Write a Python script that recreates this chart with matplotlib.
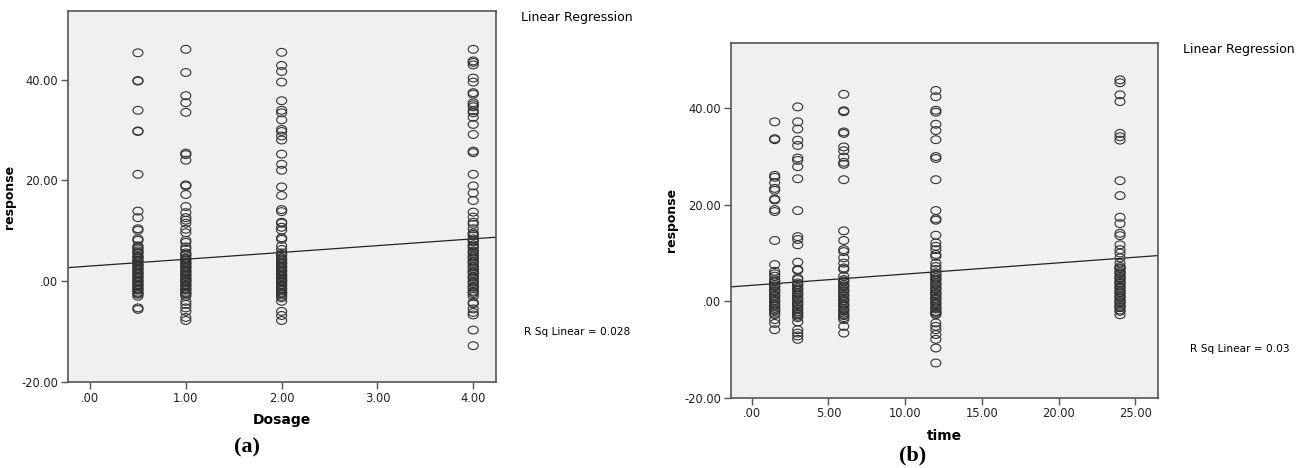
import numpy as np
import matplotlib
matplotlib.use("Agg")
import matplotlib.pyplot as plt
from matplotlib.ticker import FuncFormatter
from matplotlib.path import Path

dose_levels = [0.5, 1.0, 2.0, 4.0]
resp_d05 = [45.3, 39.8, 39.7, 33.9, 29.8, 29.7, 21.2, 13.9, 12.6, 10.4, 10.1, 8.4, 8.1,
            7.0, 6.7, 6.4, 6.0, 5.7, 5.5, 5.0, 4.8, 4.6, 4.2, 4.0, 3.8, 3.4, 3.2, 3.0,
            2.6, 2.4, 2.2, 1.8, 1.6, 1.4, 1.0, 0.8, 0.6, 0.2, 0.0, -0.2, -0.6, -0.8,
            -1.0, -1.4, -1.6, -1.8, -2.2, -2.4, -2.6, -3.0, -5.3, -5.6]
resp_d1 = [46.0, 41.4, 36.8, 35.4, 33.5, 25.4, 25.1, 24.0, 19.1, 18.9, 17.2, 14.8, 13.6,
           12.6, 12.1, 11.5, 10.3, 9.6, 8.1, 7.7, 6.8, 6.3,
           5.6, 5.3, 5.1, 4.6, 4.4, 4.2, 3.8, 3.6, 3.4, 3.0, 2.8, 2.6, 2.2, 2.0, 1.8,
           1.4, 1.2, 1.0, 0.6, 0.4, 0.2, -0.2, 0.0, -0.6, -0.8, -1.0, -1.4, -1.6, -1.8,
           -2.2, -2.4, -2.6, -3.0, -4.0, -4.6, -5.3, -6.0, -7.2, -7.8]
resp_d2 = [45.4, 42.8, 41.6, 39.5, 35.8, 33.9, 33.4, 32.0, 30.1, 29.7, 28.8, 28.0, 25.2,
           23.2, 22.0, 18.7, 17.0, 14.2, 13.8, 11.7, 11.5, 10.7, 10.1, 8.6, 8.3, 7.0, 6.3,
           5.6, 5.3, 5.1, 4.6, 4.4, 4.2, 3.8, 3.6, 3.4, 3.0, 2.8, 2.6, 2.2, 2.0, 1.8,
           1.4, 1.2, 1.0, 0.6, 0.4, 0.2, 0.0, -0.2, -0.6, -0.8, -1.0, -1.4, -1.6, -1.8,
           -2.2, -2.4, -2.6, -3.0, -3.3, -4.0, -6.0, -6.8, -7.8]
resp_d4 = [46.0, 43.7, 43.4, 42.9, 40.3, 39.5, 37.4, 37.1, 35.4, 35.0, 34.6, 33.8, 33.4,
           32.5, 31.1, 29.1, 25.8, 25.5, 21.2, 18.9, 17.5, 16.0, 13.7, 12.7, 11.7, 11.3,
           10.4, 9.6, 9.3, 9.0, 8.4, 8.1, 7.8, 7.2, 6.9, 6.6, 6.0, 5.8, 5.5, 5.0, 4.8,
           4.5, 4.0, 3.8, 3.5, 3.0, 2.8, 2.5, 2.0, 1.8, 1.5, 1.0, 0.8, 0.5, 0.0, -0.2,
           -0.5, -1.0, -1.2, -1.5, -2.0, -2.2, -2.5, -3.0,
           -4.2, -4.5, -5.5, -6.2, -6.7, -9.7, -12.8]
dose_resp = [resp_d05, resp_d1, resp_d2, resp_d4]
dose_fit = (3.0, 1.35)  # intercept, slope
dose_r2 = "0.028"

# Time panel (b)
time_levels = [1.5, 3.0, 6.0, 12.0, 24.0]
resp_t1 = [37.2, 33.7, 33.5, 26.1, 25.7, 24.6, 23.4, 23.0, 21.2, 21.0, 19.0, 18.6, 12.6,
           7.6, 6.2, 5.7, 5.2, 4.5, 4.2, 4.0, 3.5, 3.2, 3.0, 2.5, 2.2, 2.0, 1.5, 1.2, 1.0,
           0.5, 0.2, 0.0, -0.5, -0.8, -1.0, -1.5, -1.8, -2.0, -2.5, -2.8, -3.8, -4.6, -5.9]
resp_t3 = [40.3, 37.2, 35.7, 33.4, 32.3, 29.7, 29.2, 27.9, 25.4, 18.8, 13.4, 12.8, 11.7,
           8.1, 6.6, 6.4, 4.8, 4.5, 3.8, 3.5, 3.3, 2.8, 2.5, 2.3, 1.8, 1.5, 1.3, 0.8, 0.5,
           0.3, -0.2, -0.5, -0.7, -1.2, -1.5, -1.7, -2.2, -2.5, -2.7, -3.1, -3.4, -4.3,
           -5.9, -6.6, -7.2, -7.9]
resp_t6 = [42.9, 39.5, 39.3, 35.1, 34.8, 32.0, 31.2, 29.9, 28.8, 28.4, 25.2, 14.6, 12.6,
           10.7, 10.3, 9.0, 7.9, 6.9, 6.6, 5.2, 4.5, 4.2, 4.0, 3.5, 3.2, 3.0, 2.5, 2.2,
           2.0, 1.5, 1.2, 1.0, 0.5, 0.2, 0.0, -0.5, -0.8, -1.0, -1.5, -1.8, -2.0, -2.5,
           -2.8, -3.0, -3.4, -3.8, -5.2, -6.6]
resp_t12 = [43.7, 42.4, 39.6, 39.2, 36.7, 35.4, 33.5, 30.0, 29.6, 25.2, 18.8, 17.1, 16.8,
            13.7, 12.1, 11.4, 10.7, 9.7, 9.3, 7.9, 7.2, 6.6, 5.9, 5.6, 5.4, 4.9, 4.6,
            4.4, 3.9, 3.6, 3.4, 2.9, 2.6, 2.4, 1.9, 1.6, 1.4, 0.9, 0.6, 0.4, -0.1, -0.4,
            -0.6, -1.1, -1.4, -1.6, -2.1, -2.3, -2.5, -2.8,
            -4.5, -5.2, -5.9, -6.9, -7.9, -9.7, -12.8]
resp_t24 = [45.9, 45.3, 42.8, 41.4, 34.8, 34.1, 33.4, 25.0, 21.9, 17.4, 16.1, 14.1, 13.6,
            11.7, 10.7, 10.0, 9.0, 7.9, 7.2, 6.9, 6.7, 6.2, 5.9, 5.7, 5.2, 4.9, 4.7, 4.2,
            3.9, 3.7, 3.2, 2.9, 2.7, 2.2, 1.9, 1.7, 1.2, 0.9, 0.7, 0.2, -0.1, -0.3, -0.8,
            -1.1, -1.3, -1.8, -2.1, -2.8]
time_resp = [resp_t1, resp_t3, resp_t6, resp_t12, resp_t24]
time_fit = (3.3, 0.233)
time_r2 = "0.03"

bg = "#f0f0f0"
spine_col = "#555555"

# SPSS draws slightly flattened open circles
_c = Path.unit_circle()
ellipse = Path(_c.vertices * np.array([1.0, 0.78]), _c.codes)


def fmt(v, pos):
    s = f"{v:.2f}"
    if s == "0.00" or s == "-0.00":
        return ".00"
    return s


def panel(ax, levels, resp, fit, xlim, xticks, xlabel):
    ax.set_facecolor(bg)
    for lev, vals in zip(levels, resp):
        ax.scatter(np.full(len(vals), lev), vals, s=52, marker=ellipse, facecolors="none",
                   edgecolors="#333333", linewidths=0.8, zorder=3)
    xs = np.array(xlim)
    ax.plot(xs, fit[0] + fit[1] * xs, color="#222222", lw=0.9, zorder=2)
    ax.set_xlim(*xlim)
    ax.set_ylim(-20, 53.6)
    ax.set_xticks(xticks)
    ax.set_yticks([-20, 0, 20, 40])
    ax.xaxis.set_major_formatter(FuncFormatter(fmt))
    ax.yaxis.set_major_formatter(FuncFormatter(fmt))
    ax.tick_params(direction="out", length=5, width=1, color=spine_col,
                   labelsize=8.3, labelcolor="#222222", pad=2)
    for sp in ax.spines.values():
        sp.set_color(spine_col)
        sp.set_linewidth(1.2)
    ax.set_xlabel(xlabel, fontsize=10, fontweight="bold", labelpad=6)
    ax.set_ylabel("response", fontsize=9, fontweight="bold", labelpad=4)


fig = plt.figure(figsize=(13.08, 4.68), dpi=100)

ax1 = fig.add_axes([0.052, 0.1838, 0.327, 0.7927])
panel(ax1, dose_levels, dose_resp, dose_fit, (-0.23, 4.235), [0, 1, 2, 3, 4], "Dosage")

ax2 = fig.add_axes([0.5586, 0.1502, 0.3269, 0.7585])
panel(ax2, time_levels, time_resp, time_fit, (-1.37, 26.49), [0, 5, 10, 15, 20, 25], "time")

fig.text(577 / 1308, 1 - 18 / 468, "Linear Regression", ha="center", va="center", fontsize=9)
fig.text(577 / 1308, 1 - 332 / 468, "R Sq Linear = " + dose_r2, ha="center", va="center", fontsize=7.6)
fig.text(1239 / 1308, 1 - 50 / 468, "Linear Regression", ha="center", va="center", fontsize=9)
fig.text(1240 / 1308, 1 - 349 / 468, "R Sq Linear = " + time_r2, ha="center", va="center", fontsize=7.6)

fig.text(247 / 1308, 1 - 447 / 468, "(a)", ha="center", va="center", fontsize=16,
         fontweight="bold", family="Liberation Serif")
fig.text(913 / 1308, 1 - 455 / 468, "(b)", ha="center", va="center", fontsize=16,
         fontweight="bold", family="Liberation Serif")

fig.savefig("out.png", dpi=100)
